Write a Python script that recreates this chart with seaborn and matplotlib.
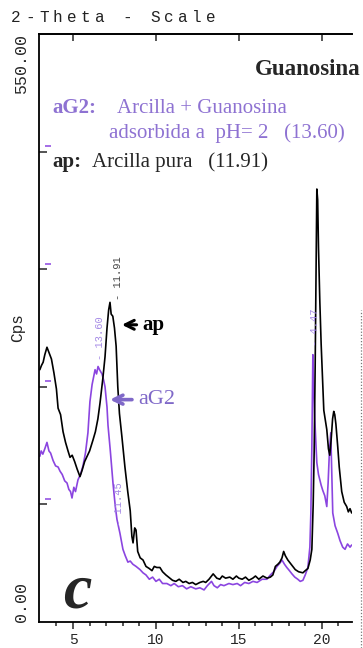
import matplotlib
matplotlib.use("Agg")
import matplotlib.pyplot as plt
import seaborn as sns
from matplotlib.lines import Line2D

# --- data (2-theta, cps) ---
ap_theta = [3.0, 3.1, 3.2, 3.3, 3.43, 3.55, 3.7, 3.85, 4.0, 4.1, 4.25, 4.4, 4.55, 4.7, 4.82,
            4.95, 5.1, 5.25, 5.42, 5.55, 5.7, 5.85, 6.0, 6.2, 6.35, 6.5, 6.63, 6.8, 6.93, 7.05,
            7.15, 7.23, 7.3, 7.4, 7.5, 7.6, 7.7, 7.8, 7.95, 8.13, 8.3, 8.45, 8.55, 8.62, 8.72,
            8.8, 8.9, 9.05, 9.22, 9.4, 9.6, 9.76, 9.9, 10.05, 10.24, 10.4, 10.6, 10.84, 11.0,
            11.2, 11.4, 11.63, 11.8, 12.0, 12.2, 12.4, 12.65, 12.85, 13.0, 13.2, 13.45, 13.67,
            13.85, 14.0, 14.2, 14.45, 14.64, 14.85, 15.0, 15.2, 15.4, 15.6, 15.84, 16.0, 16.2,
            16.45, 16.7, 16.9, 17.05, 17.2, 17.35, 17.47, 17.6, 17.7, 17.8, 17.95, 18.1, 18.25,
            18.4, 18.6, 18.86, 19.0, 19.16, 19.3, 19.4, 19.48, 19.54, 19.6, 19.65, 19.7, 19.75,
            19.8, 19.88, 19.96, 20.05, 20.12, 20.2, 20.3, 20.4, 20.48, 20.56, 20.65, 20.72,
            20.78, 20.85, 20.96, 21.05, 21.2, 21.35, 21.5, 21.6, 21.7, 21.8]
ap_cps = [236, 240, 243, 250, 257, 252, 246, 233, 218, 200, 194, 178, 168, 160, 154,
          156, 150, 143, 136, 142, 150, 155, 160, 170, 178, 190, 205, 228, 248, 275,
          292, 299, 288, 286, 275, 258, 220, 195, 173, 145, 122, 104, 80, 74, 88,
          86, 66, 60, 58, 52, 50, 48, 52, 51, 51, 47, 44, 41, 39,
          38, 40, 37, 38, 36, 37, 35, 37, 38, 37, 40, 45, 41,
          40, 43, 41, 42, 40, 43, 41, 40, 42, 39, 41, 43, 40,
          43, 41, 42, 44, 52, 54, 56, 60, 66, 62, 58, 55, 52,
          49, 47, 46, 48, 50, 58, 68, 110, 160, 240, 320, 405, 395,
          350, 300, 260, 225, 198, 190, 180, 162, 156, 170, 190, 197,
          194, 185, 164, 145, 122, 112, 108, 103, 106, 102]

ag2_theta = [3.0, 3.08, 3.18, 3.3, 3.43, 3.55, 3.65, 3.8, 3.95, 4.1, 4.22, 4.35, 4.5, 4.64,
             4.75, 4.85, 4.94, 5.05, 5.15, 5.3, 5.45, 5.6, 5.75, 5.9, 6.02, 6.15, 6.33, 6.42,
             6.51, 6.6, 6.75, 6.85, 6.93, 7.05, 7.11, 7.25, 7.41, 7.55, 7.65, 7.83, 8.01, 8.15,
             8.31, 8.45, 8.61, 8.8, 9.04, 9.22, 9.4, 9.6, 9.8, 10.0, 10.2, 10.4, 10.66, 10.9,
             11.1, 11.35, 11.6, 11.85, 12.1, 12.4, 12.65, 12.9, 13.1, 13.35, 13.5, 13.7, 13.9,
             14.1, 14.4, 14.64, 14.9, 15.1, 15.35, 15.6, 15.85, 16.1, 16.4, 16.69, 16.9, 17.1,
             17.3, 17.47, 17.6, 17.75, 17.89, 18.05, 18.2, 18.37, 18.55, 18.7, 18.86, 19.0,
             19.16, 19.28, 19.34, 19.4, 19.46, 19.52, 19.58, 19.65, 19.7, 19.8, 19.88, 19.96,
             20.06, 20.18, 20.3, 20.38, 20.46, 20.54, 20.6, 20.66, 20.8, 20.96, 21.1, 21.26,
             21.4, 21.55, 21.7, 21.8]
ag2_cps = [155, 160, 157, 162, 168, 160, 158, 151, 146, 145, 141, 138, 132, 130,
           124, 122, 116, 126, 122, 133, 138, 146, 158, 177, 206, 222, 236, 232,
           239, 236, 232, 226, 220, 201, 184, 160, 130, 108, 96, 83, 68, 62,
           56, 57, 54, 52, 49, 46, 44, 40, 42, 38, 40, 36, 36, 34,
           36, 33, 34, 31, 33, 31, 32, 30, 34, 38, 34, 32, 35,
           34, 36, 35, 36, 34, 37, 36, 38, 37, 40, 40, 44, 47,
           52, 55, 58, 54, 51, 48, 45, 42, 40, 38, 39, 44,
           51, 70, 102, 164, 250, 215, 189, 165, 149, 138, 133, 128,
           123, 118, 108, 130, 160, 177, 140, 102, 90, 83, 76, 70,
           68, 73, 70, 72]

x_major = [5, 10, 15, 20]
y_inner_ticks = [110, 220, 330, 440]
y_range = [0, 550]

ap_color = "black"
ag2_color = "#8b45e0"
ag2_text = "#8e72d2"

W, H = 363, 648
sns.set_theme(style="ticks")
fig = plt.figure(figsize=(W / 100, H / 100), dpi=100)
ax = fig.add_axes([39 / W, 26 / H, 313 / W, 588 / H])

sns.lineplot(x=ag2_theta, y=ag2_cps, ax=ax, color=ag2_color, lw=1.2, estimator=None)
sns.lineplot(x=ap_theta, y=ap_cps, ax=ax, color=ap_color, lw=1.2, estimator=None)

ax.set_xlim(2.95, 21.82)
ax.set_ylim(*y_range)
mono = "Liberation Mono"
serif = "Liberation Serif"

ax.set_xticks(x_major)
ax.set_xticks(range(4, 22), minor=True)
ax.set_xticklabels([str(v) for v in x_major], family=mono, fontsize=10.5)
ax.tick_params(axis="x", which="major", direction="out", length=5, width=1.1, pad=3)
ax.tick_params(axis="x", which="minor", direction="out", length=3, width=1.1)

ax.set_yticks(y_range)
ax.set_yticklabels([f"{v:.2f}" for v in y_range], family=mono, fontsize=12, rotation=90)
lbls = ax.get_yticklabels()
lbls[0].set_va("bottom")
lbls[1].set_va("top")
ax.set_yticks(y_inner_ticks, minor=True)
ax.tick_params(axis="y", which="major", length=0, pad=7)
ax.tick_params(axis="y", which="minor", direction="in", length=6, width=1.1)
ax.set_ylabel("Cps", family=mono, fontsize=11.5)
ax.yaxis.set_label_coords(-0.045, 0.5)

# faint second set of ticks left over from the overlaid scan
ag_ticks = ax.secondary_yaxis(0.02)
ag_ticks.set_yticks([v + 5 for v in y_inner_ticks])
ag_ticks.tick_params(direction="in", length=4, width=1.1, color=ag2_color, labelleft=False)
ag_ticks.spines["left"].set_visible(False)

top = ax.secondary_xaxis("top")
top.set_xticks(x_major)
top.tick_params(direction="in", length=5, width=1.1, labeltop=False)
top.spines["top"].set_linewidth(1.3)

sns.despine(ax=ax, right=True, top=False)
for s in ["left", "bottom", "top"]:
    ax.spines[s].set_linewidth(1.3)
    ax.spines[s].set_color("black")

# scan header, letter-spaced monospace
title = "2-Theta - Scale"
for i, ch in enumerate(title):
    fig.text((16 + i * 13.9) / W, 1 - 18 / H, ch, family=mono, fontsize=11.5,
             ha="center", va="center", color="#222")

# legend text
def ftxt(px, py, s, **kw):
    fig.text(px / W, 1 - py / H, s, va="baseline", family=serif, **kw)

ftxt(360, 75, "Guanosina", ha="right", fontsize=16.5, weight="bold")
ftxt(52, 113, "aG2:", fontsize=15, weight="bold", color=ag2_text)
ftxt(117, 113, "Arcilla + Guanosina", fontsize=15, color=ag2_text)
ftxt(109, 138, "adsorbida a  pH= 2   (13.60)", fontsize=15, color=ag2_text)
ftxt(52, 167, "ap:", fontsize=15, weight="bold")
ftxt(92, 167, "Arcilla pura   (11.91)", fontsize=15)
ftxt(77, 607, "c", ha="center", fontsize=46, weight="bold", style="italic")

# peak arrows
ap_peak = ap_cps.index(max(ap_cps[:40]))
ag_peak = ag2_cps.index(max(ag2_cps[:40]))
ax.annotate("ap", xy=(ap_theta[ap_peak] + 0.72, ap_cps[ap_peak] - 21),
            xytext=(9.2, ap_cps[ap_peak] - 21), ha="left", va="center",
            family=serif, fontsize=15, weight="bold", color=ap_color,
            arrowprops=dict(arrowstyle="->", lw=2.2, color=ap_color,
                            mutation_scale=16, shrinkA=2, shrinkB=0))
ax.annotate("aG2", xy=(ag2_theta[ag_peak] + 0.72, 208),
            xytext=(8.92, 208), ha="left", va="center",
            family=serif, fontsize=16, color="#7f68c8",
            arrowprops=dict(arrowstyle="->", lw=2.6, color="#7f68c8",
                            mutation_scale=16, shrinkA=2, shrinkB=0))

# peak position labels from the diffractometer
ax.text(ap_theta[ap_peak] + 0.48, ap_cps[ap_peak] + 2, "- 11.91", rotation=90,
        family=mono, fontsize=7.5, color="#444", ha="center", va="bottom")
ax.text(ag2_theta[ag_peak] + 0.12, 245, "- 13.60", rotation=90,
        family=mono, fontsize=7.5, color="#a58ae6", ha="center", va="bottom")
ax.text(7.75, 90, "- 11.45", rotation=90,
        family=mono, fontsize=7.5, color="#a58ae6", ha="center", va="bottom")
ax.text(19.6, 258, "- 4.47", rotation=90,
        family=mono, fontsize=7.5, color="#a58ae6", ha="center", va="bottom")

# dotted scan border on the right
fig.add_artist(Line2D([361 / W, 361 / W], [0, 1 - 310 / H], transform=fig.transFigure,
                      ls=(0, (1, 1.5)), lw=0.9, color="#777"))

fig.savefig("out.png", dpi=100)
